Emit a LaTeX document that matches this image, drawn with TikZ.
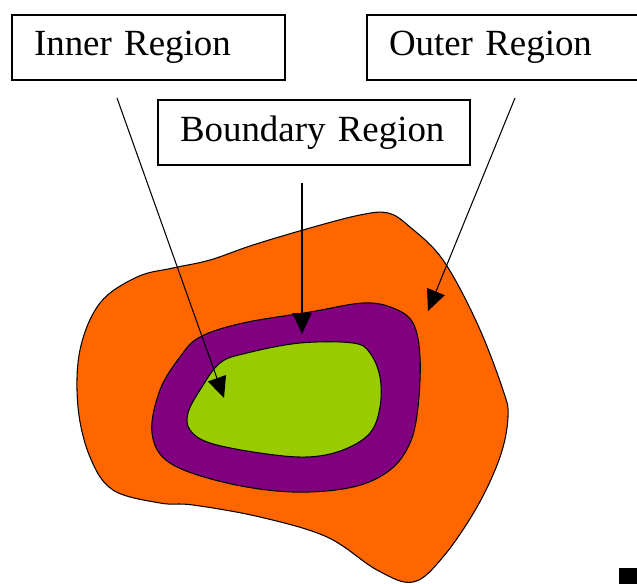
\documentclass[tikz,border=0pt]{standalone}
\usepackage{fontspec}
\setmainfont{Liberation Serif}
\usepackage{tikz}
\usetikzlibrary{arrows.meta,positioning,calc}
\definecolor{regOrange}{HTML}{FF6600}
\definecolor{regPurple}{HTML}{800080}
\definecolor{regGreen}{HTML}{99CC00}
\tikzset{
  Rbox/.style={draw, line width=1.1pt, align=left, fill=white,
               font=\fontsize{21}{25}\selectfont,
               minimum height=1.3cm, inner xsep=0.44cm, inner ysep=0pt},
  Narr/.style={-{Triangle[length=0.42cm, width=0.38cm]}, line width=0.6pt},
  Blob/.style={draw, line width=0.6pt}
}
\begin{document}
\begin{tikzpicture}[x=0.02cm, y=-0.02cm]
  \useasboundingbox (0,0) rectangle (637,583);
  \clip (0,0) rectangle (637,583);
  % regions
  \draw[Blob, fill=regOrange] plot[smooth cycle, tension=0.6] coordinates {
    (360,215) (388,213) (410,227) (443,260) (477,323) (503,390) (508,417)
    (500,457) (477,507) (443,557) (413,582) (377,570) (327,537) (260,517)
    (193,505) (160,503) (113,490) (90,457) (78,407) (80,350) (100,303)
    (137,277) (173,268) (210,260) (253,245) (310,228)};
  \draw[Blob, fill=regPurple] plot[smooth cycle, tension=0.6] coordinates {
    (363,303) (393,308) (413,323) (420,357) (418,407) (410,443) (390,470)
    (353,487) (293,492) (227,483) (170,463) (152,433) (160,390) (180,357)
    (200,337) (243,323) (310,312)};
  \draw[Blob, fill=regGreen] plot[smooth cycle, tension=0.6] coordinates {
    (353,343) (370,353) (380,377) (380,407) (370,433) (343,450) (307,457)
    (260,453) (210,443) (190,430) (188,413) (200,390) (220,363) (247,353)
    (300,343)};
  \fill (619,568) rectangle (640,586);
  % labels
  \node[Rbox, text width=4.58cm] (inner) at (148.5,47.5) {Inner Region};
  \node[Rbox, text width=4.72cm] (outer) at (507,47.5) {Outer Region};
  \node[Rbox, text width=5.36cm] (bound) at (314,132.5) {Boundary Region};
  % pointers
  \coordinate (inTail) at (117,98);
  \coordinate (inTip) at (224,398);
  \coordinate (bdTail) at (302,183);
  \coordinate (bdTip) at (302,334);
  \coordinate (outTail) at (515,98);
  \coordinate (outTip) at (428,311);
  \draw[Narr] (inTail) -- (inTip);
  \draw[Narr, line width=1.2pt] (bdTail) -- (bdTip);
  \draw[Narr] (outTail) -- (outTip);
\end{tikzpicture}
\end{document}
